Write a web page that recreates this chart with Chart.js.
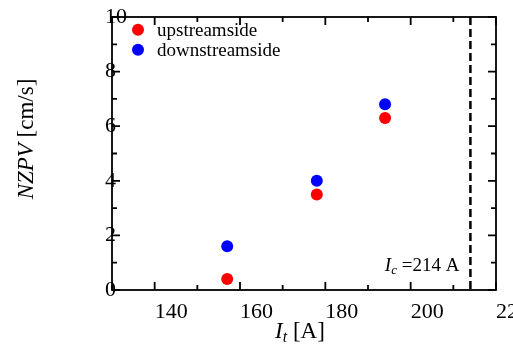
<!DOCTYPE html>
<html lang="en">
<head>
<meta charset="UTF-8">
<title>NZPV vs It</title>
<style>
  html, body { margin: 0; padding: 0; background: #fff; overflow: hidden; }
</style>
</head>
<body>
<canvas id="chart" width="513" height="345"></canvas>
<script src="https://cdn.jsdelivr.net/npm/chart.js@4.4.1/dist/chart.umd.min.js"></script>
<script>
// transport current It [A]
const currents = [157, 178, 194];
// NZPV [cm/s]
const upstream = [0.4, 3.5, 6.3];
const downstream = [1.6, 4.0, 6.8];
// critical current line, Ic = 214 A
const criticalX = [214, 214];
const criticalY = [10, 0];

const seriesNames = ['upstreamside', 'downstreamside'];
const seriesColors = ['#ff0000', '#0000ff'];

const serif = "'Liberation Serif', 'Times New Roman', serif";
Chart.defaults.font.family = serif;
Chart.defaults.color = '#000';

const toPoints = (xs, ys) => xs.map((x, i) => ({ x: x, y: ys[i] }));

// frame with inward ticks on all four sides
const framePlugin = {
  id: 'frame',
  afterDatasetsDraw(chart) {
    const { ctx, chartArea: a, scales: { x, y } } = chart;
    ctx.save();
    ctx.strokeStyle = '#000';
    ctx.lineWidth = 1.8;
    ctx.strokeRect(a.left, a.top, a.right - a.left, a.bottom - a.top);
    ctx.beginPath();
    x.ticks.forEach(t => {
      const px = x.getPixelForValue(t.value);
      const len = t.value % 20 === 0 ? 8 : 5;
      ctx.moveTo(px, a.bottom); ctx.lineTo(px, a.bottom - len);
      ctx.moveTo(px, a.top); ctx.lineTo(px, a.top + len);
    });
    y.ticks.forEach(t => {
      const py = y.getPixelForValue(t.value);
      const len = t.value % 2 === 0 ? 8 : 5;
      ctx.moveTo(a.left, py); ctx.lineTo(a.left + len, py);
      ctx.moveTo(a.right, py); ctx.lineTo(a.right - len, py);
    });
    ctx.stroke();
    ctx.restore();
  }
};

// draws a run of text pieces [text, font, dy] starting at x
function drawPieces(ctx, pieces, x, y) {
  pieces.forEach(p => {
    ctx.font = p[1];
    ctx.fillText(p[0], x, y + (p[2] || 0));
    x += ctx.measureText(p[0]).width;
  });
}
function piecesWidth(ctx, pieces) {
  return pieces.reduce((w, p) => { ctx.font = p[1]; return w + ctx.measureText(p[0]).width; }, 0);
}

// axis titles, legend and the Ic note
const textPlugin = {
  id: 'texts',
  afterDraw(chart) {
    const { ctx, chartArea: a, scales: { x } } = chart;
    ctx.save();
    ctx.fillStyle = '#000';
    ctx.textAlign = 'left';
    ctx.textBaseline = 'alphabetic';

    // x title: It [A]
    const xt = [['I', 'italic 23px ' + serif], ['t', 'italic 16px ' + serif, 4], [' [A]', '23px ' + serif]];
    const xw = piecesWidth(ctx, xt);
    drawPieces(ctx, xt, (a.left + a.right) / 2 - 4 - xw / 2, 338);

    // y title: NZPV [cm/s]
    const yt = [['NZPV', 'italic 23px ' + serif], [' [cm/s]', '23px ' + serif]];
    const yw = piecesWidth(ctx, yt);
    ctx.save();
    ctx.translate(25, 139);
    ctx.rotate(-Math.PI / 2);
    drawPieces(ctx, yt, -yw / 2, 8);
    ctx.restore();

    // legend inside the plot
    ctx.textBaseline = 'middle';
    chart.data.datasets.slice(0, 2).forEach((ds, i) => {
      const cy = 29.7 + i * 20;
      ctx.beginPath();
      ctx.fillStyle = ds.borderColor;
      ctx.arc(138, cy, 6, 0, Math.PI * 2);
      ctx.fill();
      ctx.fillStyle = '#000';
      ctx.font = '19px ' + serif;
      ctx.fillText(ds.label, 157, cy + 1);
    });

    // Ic note, just left of the dashed line
    ctx.textBaseline = 'alphabetic';
    const note = [['I', 'italic 19px ' + serif], ['c', 'italic 13px ' + serif, 3], [' =' + criticalX[0] + ' A', '19px ' + serif]];
    const nw = piecesWidth(ctx, note);
    drawPieces(ctx, note, x.getPixelForValue(criticalX[0]) - 11 - nw, 271);
    ctx.restore();
  }
};

new Chart(document.getElementById('chart'), {
  type: 'scatter',
  data: {
    datasets: [
      {
        label: seriesNames[0],
        data: toPoints(currents, upstream),
        backgroundColor: seriesColors[0],
        borderColor: seriesColors[0],
        pointRadius: 6,
        borderWidth: 0
      },
      {
        label: seriesNames[1],
        data: toPoints(currents, downstream),
        backgroundColor: seriesColors[1],
        borderColor: seriesColors[1],
        pointRadius: 6,
        borderWidth: 0
      },
      {
        label: 'Ic',
        data: toPoints(criticalX, criticalY),
        showLine: true,
        borderColor: '#000',
        borderWidth: 2.5,
        borderDash: [8, 4],
        pointRadius: 0
      }
    ]
  },
  options: {
    responsive: false,
    animation: false,
    devicePixelRatio: 1,
    layout: { padding: { left: 0, top: 17, right: 17, bottom: 0 } },
    plugins: { legend: { display: false }, tooltip: { enabled: false } },
    scales: {
      x: {
        type: 'linear',
        min: 130,
        max: 220,
        grid: { display: false },
        border: { display: false },
        ticks: {
          stepSize: 10,
          autoSkip: false,
          maxRotation: 0,
          align: 'start',
          padding: 1,
          font: { size: 22 },
          callback: v => (v % 20 === 0 ? v : '')
        },
        afterFit: s => { s.height = 55; s.paddingLeft = 0; s.paddingRight = 0; }
      },
      y: {
        min: 0,
        max: 10,
        grid: { display: false },
        border: { display: false },
        ticks: {
          stepSize: 1,
          autoSkip: false,
          mirror: true,
          padding: -7,
          font: { size: 22 },
          callback: v => (v % 2 === 0 ? v : '')
        },
        afterFit: s => { s.width = 112; s.paddingTop = 0; s.paddingBottom = 0; }
      }
    }
  },
  plugins: [framePlugin, textPlugin]
});
</script>
</body>
</html>
